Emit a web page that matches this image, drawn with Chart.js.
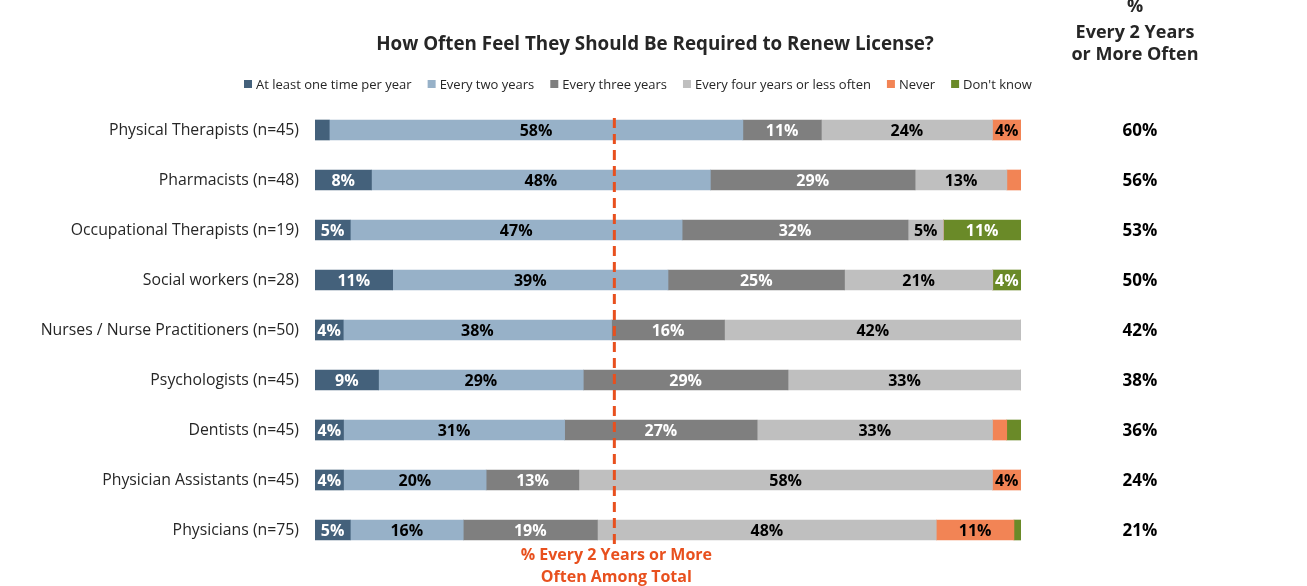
<!DOCTYPE html>
<html>
<head>
<meta charset="utf-8">
<script src="https://cdn.jsdelivr.net/npm/chart.js@4.4.1/dist/chart.umd.min.js"></script>
<style>
  html, body { margin: 0; padding: 0; background: #fff; }
  #wrap { width: 1307px; height: 586px; position: relative; }
</style>
</head>
<body>
<div id="wrap"><canvas id="renewChart" width="1307" height="586"></canvas></div>
<script>
// categories (top to bottom)
const categories = [
  "Physical Therapists (n=45)",
  "Pharmacists (n=48)",
  "Occupational Therapists (n=19)",
  "Social workers (n=28)",
  "Nurses / Nurse Practitioners (n=50)",
  "Psychologists (n=45)",
  "Dentists (n=45)",
  "Physician Assistants (n=45)",
  "Physicians (n=75)"
];
const seriesNames = [
  "At least one time per year",
  "Every two years",
  "Every three years",
  "Every four years or less often",
  "Never",
  "Don't know"
];
// series values (%)
const atLeastYearly = [2, 8, 5, 11, 4, 9, 4, 4, 5];
const everyTwoYears = [58, 48, 47, 39, 38, 29, 31, 20, 16];
const everyThreeYears = [11, 29, 32, 25, 16, 29, 27, 13, 19];
const everyFourOrLess = [24, 13, 5, 21, 42, 33, 33, 58, 48];
const never = [4, 2, 0, 0, 0, 0, 2, 4, 11];
const dontKnow = [0, 0, 11, 4, 0, 0, 2, 0, 1];
// right column: % every 2 years or more often
const twoYearsOrMore = [60, 56, 53, 50, 42, 38, 36, 24, 21];
// total line
const totalTwoYearsOrMore = 42.4;

const seriesColors = ["#44617b", "#97b1c8", "#7f7f7f", "#bfbfbf", "#f28455", "#6a8a28"];
const labelColors = ["#fff", "#000", "#fff", "#000", "#000", "#fff"];
const accent = "#e8501e";
const FONT = "'Open Sans', 'Noto Sans', sans-serif";

const rawSeries = [atLeastYearly, everyTwoYears, everyThreeYears, everyFourOrLess, never, dontKnow];
const rowTotals = categories.map((c, i) => rawSeries.reduce((s, arr) => s + arr[i], 0));

// labels on segments, title, legend, right column and total marker
const overlayPlugin = {
  id: "overlay",
  afterDatasetsDraw(chart) {
    const ctx = chart.ctx;
    ctx.save();
    ctx.textAlign = "center";
    ctx.textBaseline = "middle";
    ctx.font = "bold 16px " + FONT;
    chart.data.datasets.forEach((ds, di) => {
      const meta = chart.getDatasetMeta(di);
      meta.data.forEach((el, i) => {
        const v = ds.raw[i];
        if (v < 3) return;
        ctx.fillStyle = labelColors[di];
        ctx.fillText(v + "%", (el.x + el.base) / 2, el.y + 1);
      });
    });

    // dashed total line
    const xs = chart.scales.x;
    const area = chart.chartArea;
    const lx = xs.getPixelForValue(totalTwoYearsOrMore);
    ctx.strokeStyle = accent;
    ctx.lineWidth = 3;
    ctx.setLineDash([10, 6]);
    ctx.beginPath();
    ctx.moveTo(lx, area.top + 13);
    ctx.lineTo(lx, area.bottom - 8);
    ctx.stroke();
    ctx.setLineDash([]);

    ctx.fillStyle = accent;
    ctx.font = "bold 16px " + FONT;
    ctx.fillText("% Every 2 Years or More", lx + 2, 555);
    ctx.fillText("Often Among Total", lx + 2, 577);

    // right column values
    const ys = chart.scales.y;
    ctx.fillStyle = "#000";
    ctx.font = "bold 17px " + FONT;
    twoYearsOrMore.forEach((v, i) => {
      ctx.fillText(v + "%", 1140, ys.getPixelForValue(i) + 1);
    });
    ctx.font = "bold 18px " + FONT;
    ctx.fillStyle = "#262626";
    ctx.fillText("%", 1135, 7);
    ctx.fillText("Every 2 Years", 1135, 33);
    ctx.fillText("or More Often", 1135, 55);

    // title
    ctx.font = "bold 18.8px " + FONT;
    ctx.fillText("How Often Feel They Should Be Required to Renew License?", 655, 45);

    // legend
    ctx.font = "13px " + FONT;
    ctx.textAlign = "left";
    let x = 244;
    seriesNames.forEach((name, i) => {
      ctx.fillStyle = seriesColors[i];
      ctx.fillRect(x, 80, 8, 8);
      ctx.fillStyle = "#262626";
      ctx.fillText(name, x + 12, 85);
      x += 12 + ctx.measureText(name).width + 16;
    });
    ctx.restore();
  }
};

const el = document.getElementById("renewChart");
new Chart(el, {
  type: "bar",
  data: {
    labels: categories,
    datasets: rawSeries.map((arr, di) => ({
      label: seriesNames[di],
      raw: arr,
      data: arr.map((v, i) => (v / rowTotals[i]) * 100),
      backgroundColor: seriesColors[di],
      borderWidth: 0,
      barThickness: 20
    }))
  },
  options: {
    indexAxis: "y",
    responsive: false,
    animation: false,
    devicePixelRatio: 1,
    layout: { padding: { top: 105, bottom: 31, right: 286, left: 0 } },
    plugins: {
      legend: { display: false },
      title: { display: false },
      tooltip: { enabled: false }
    },
    scales: {
      x: { stacked: true, min: 0, max: 100, display: false },
      y: {
        stacked: true,
        grid: { display: false, drawTicks: false },
        border: { display: false },
        ticks: {
          padding: 16,
          color: "#262626",
          font: { family: FONT, size: 15.8 }
        },
        afterFit(scale) { scale.width = 315; }
      }
    }
  },
  plugins: [overlayPlugin]
});
</script>
</body>
</html>
